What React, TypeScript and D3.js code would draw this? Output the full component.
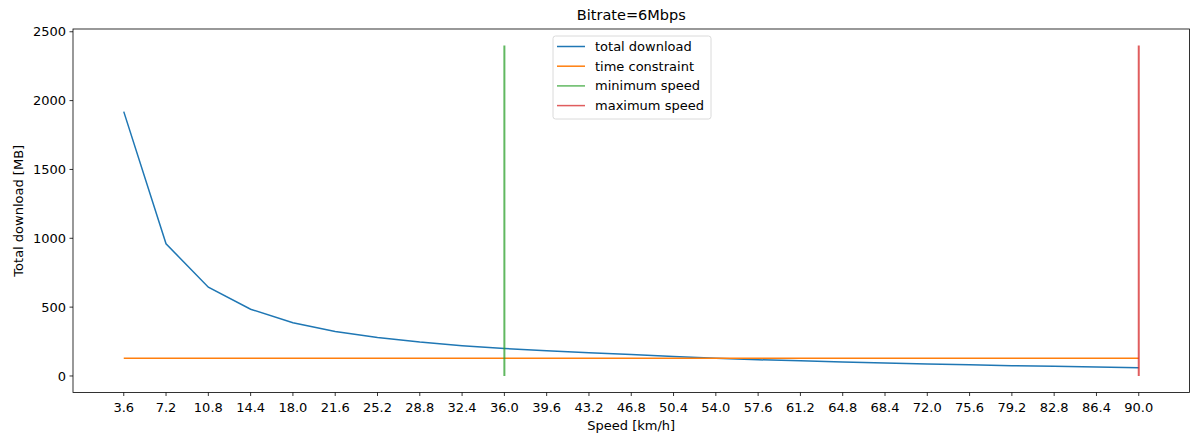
import React from "react";
import * as d3 from "d3";

const speeds = [3.6, 7.2, 10.8, 14.4, 18.0, 21.6, 25.2, 28.8, 32.4, 36.0, 39.6, 43.2, 46.8, 50.4, 54.0, 57.6, 61.2, 64.8, 68.4, 72.0, 75.6, 79.2, 82.8, 86.4, 90.0];
const tickLabels = speeds.map((s) => s.toFixed(1));
const totalDownload = [1920, 960, 645, 485, 387, 323, 280, 246, 220, 200, 183, 169, 156, 142, 128, 118, 110, 102, 94, 87, 81, 75, 70, 65, 59];
const timeConstraint = [128, 128];
const timeConstraintX = [3.6, 90.0];
const minSpeed = 36.0;
const maxSpeed = 90.0;
const verticalRange = [0, 2400];
const yTicks = [0, 500, 1000, 1500, 2000, 2500];
const legendItems = ["total download", "time constraint", "minimum speed", "maximum speed"];
const colors = ["#1f77b4", "#ff7f0e", "#2ca02c", "#d62728"];

export default function App() {
  const W = 1190, H = 437;
  const left = 73, right = 1189.5, top = 29, bottom = 392.5;
  const x = d3.scaleLinear().domain([3.6 - 4.32, 90 + 4.32]).range([left, right]);
  const y = d3.scaleLinear().domain([-120, 2520]).range([bottom, top]);
  const line = d3.line<[number, number]>().x((d) => x(d[0])).y((d) => y(d[1]));
  const font = "DejaVu Sans, sans-serif";
  const fs = 13;
  const curve = speeds.map((s, i) => [s, totalDownload[i]] as [number, number]);
  const tc = timeConstraintX.map((s, i) => [s, timeConstraint[i]] as [number, number]);
  const lgX = 553, lgY = 36, lgW = 158, lgH = 83;
  return (
    <svg width={W} height={H} style={{ position: "absolute", left: 0, top: 0 }} fontFamily={font}>
      <rect x={0} y={0} width={W} height={H} fill="#fff" />
      <text x={(left + right) / 2} y={20} textAnchor="middle" fontSize={14.5} fill="#000">Bitrate=6Mbps</text>
      <path d={line(curve) || ""} fill="none" stroke={colors[0]} strokeWidth={1.5} />
      <path d={line(tc) || ""} fill="none" stroke={colors[1]} strokeWidth={1.5} />
      <line x1={x(minSpeed)} x2={x(minSpeed)} y1={y(verticalRange[0])} y2={y(verticalRange[1])} stroke={colors[2]} strokeWidth={2} strokeOpacity={0.75} />
      <line x1={x(maxSpeed)} x2={x(maxSpeed)} y1={y(verticalRange[0])} y2={y(verticalRange[1])} stroke={colors[3]} strokeWidth={2} strokeOpacity={0.75} />
      <rect x={left} y={top} width={right - left} height={bottom - top} fill="none" stroke="#000" strokeWidth={0.8} />
      {yTicks.map((t) => (
        <g key={t}>
          <line x1={left - 3.5} x2={left} y1={y(t)} y2={y(t)} stroke="#000" strokeWidth={0.8} />
          <text x={left - 7} y={y(t)} dy="0.35em" textAnchor="end" fontSize={fs} fill="#000">{t}</text>
        </g>
      ))}
      {speeds.map((s, i) => (
        <g key={s}>
          <line x1={x(s)} x2={x(s)} y1={bottom} y2={bottom + 3.5} stroke="#000" strokeWidth={0.8} />
          <text x={x(s)} y={412} textAnchor="middle" fontSize={fs} fill="#000">{tickLabels[i]}</text>
        </g>
      ))}
      <text x={(left + right) / 2} y={430} textAnchor="middle" fontSize={fs} fill="#000">Speed [km/h]</text>
      <text transform={`translate(22.5,${(top + bottom) / 2}) rotate(-90)`} textAnchor="middle" fontSize={fs} fill="#000">Total download [MB]</text>
      <rect x={lgX} y={lgY} width={lgW} height={lgH} rx={2.5} fill="#fff" fillOpacity={0.8} stroke="#d0d0d0" strokeWidth={0.8} />
      {legendItems.map((name, i) => (
        <g key={name}>
          <line x1={lgX + 4} x2={lgX + 32} y1={lgY + 10.5 + i * 19.7} y2={lgY + 10.5 + i * 19.7} stroke={colors[i]} strokeWidth={1.5} strokeOpacity={i >= 2 ? 0.75 : 1} />
          <text x={lgX + 42} y={lgY + 10.5 + i * 19.7} dy="0.35em" fontSize={fs} fill="#000">{name}</text>
        </g>
      ))}
    </svg>
  );
}
